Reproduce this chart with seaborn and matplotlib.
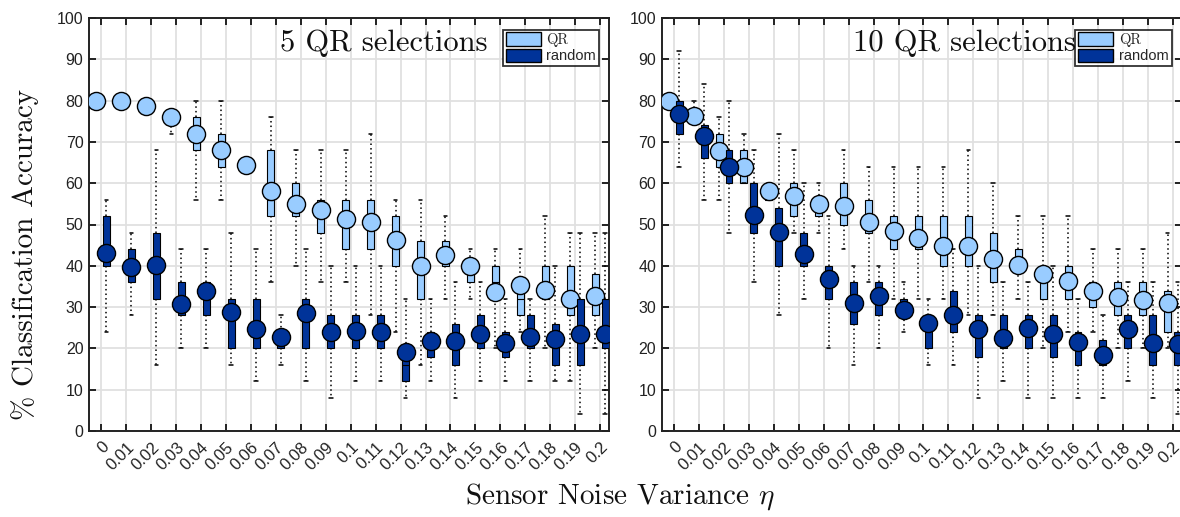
import numpy as np
import matplotlib
matplotlib.use("Agg")
import matplotlib.pyplot as plt
from matplotlib.patches import Patch
import seaborn as sns

# Sensor noise variance levels (x categories)
noise_levels = ["0", "0.01", "0.02", "0.03", "0.04", "0.05", "0.06", "0.07", "0.08", "0.09",
                "0.1", "0.11", "0.12", "0.13", "0.14", "0.15", "0.16", "0.17", "0.18", "0.19", "0.2"]
y_ticks = [0, 10, 20, 30, 40, 50, 60, 70, 80, 90, 100]

# ---- 5 QR selections ----
qr5_mean = [80, 80, 78.8, 76, 72, 68, 64.5, 58.1, 54.9, 53.5, 51.3, 50.5, 46.3, 40, 42.6, 40, 33.7, 35.4, 34.2, 31.9, 32.8]
qr5_q1 = [80, 80, 80, 76, 68, 64, 64, 52, 52, 48, 44, 44, 40, 32, 40, 36, 32, 28, 32, 28, 28]
qr5_q3 = [80, 80, 80, 76, 76, 72, 64, 68, 60, 56, 56, 56, 52, 46, 46, 40, 40, 36, 40, 40, 38]
qr5_med = [80, 80, 80, 76, 72, 68, 64, 56, 56, 52, 52, 52, 48, 40, 44, 40, 36, 32, 36, 32, 32]
qr5_lo = [80, 80, 80, 72, 56, 56, 64, 36, 40, 36, 36, 28, 24, 16, 32, 32, 20, 24, 20, 12, 20]
qr5_hi = [80, 80, 80, 76, 80, 80, 64, 76, 68, 68, 68, 72, 56, 56, 52, 44, 44, 44, 52, 48, 48]

rnd5_mean = [43.2, 39.7, 40.2, 30.7, 33.9, 28.9, 24.7, 22.7, 28.5, 23.9, 24.1, 23.9, 19.2, 21.9, 21.7, 23.5, 21.4, 22.8, 22.3, 23.5, 23.5]
rnd5_q1 = [40, 36, 32, 28, 28, 20, 20, 20, 20, 20, 20, 20, 12, 18, 16, 20, 18, 20, 16, 16, 20]
rnd5_q3 = [52, 44, 48, 36, 36, 32, 32, 24, 32, 28, 28, 28, 20, 24, 26, 28, 24, 28, 26, 32, 32]
rnd5_med = [44, 40, 40, 32, 32, 28, 24, 24, 28, 24, 24, 24, 16, 22, 20, 24, 20, 24, 22, 24, 24]
rnd5_lo = [24, 28, 16, 20, 20, 16, 12, 16, 12, 8, 12, 12, 8, 12, 8, 12, 12, 12, 12, 4, 4]
rnd5_hi = [56, 48, 68, 44, 44, 48, 44, 28, 44, 40, 40, 40, 32, 32, 36, 36, 32, 32, 40, 48, 48]

# ---- 10 QR selections ----
qr10_mean = [80, 76.2, 67.9, 64, 58.2, 56.8, 54.9, 54.4, 50.6, 48.5, 46.7, 44.8, 44.8, 41.6, 40.3, 38.1, 36.3, 34, 32.5, 31.7, 30.9]
qr10_q1 = [80, 76, 64, 60, 56, 52, 52, 50, 48, 44, 44, 40, 40, 36, 40, 32, 32, 30, 28, 28, 24]
qr10_q3 = [80, 76, 72, 68, 60, 60, 56, 60, 56, 52, 52, 52, 52, 48, 44, 40, 40, 36, 36, 36, 34]
qr10_med = [80, 76, 68, 64, 58, 56, 56, 56, 52, 48, 48, 44, 44, 40, 40, 38, 36, 32, 32, 32, 30]
qr10_lo = [80, 76, 56, 60, 56, 48, 48, 44, 36, 32, 32, 32, 28, 28, 32, 20, 24, 24, 20, 20, 20]
qr10_hi = [80, 80, 76, 72, 60, 68, 60, 68, 64, 64, 64, 64, 68, 60, 52, 52, 52, 44, 44, 44, 48]

rnd10_mean = [76.7, 71.5, 64, 52.2, 48.1, 42.9, 36.8, 31.1, 32.7, 29.3, 26.2, 28.1, 24.7, 22.6, 25, 23.4, 21.6, 18.5, 24.6, 21.4, 21]
rnd10_q1 = [72, 66, 60, 48, 40, 40, 32, 26, 28, 28, 20, 24, 18, 20, 20, 18, 16, 16, 20, 16, 16]
rnd10_q3 = [80, 74, 68, 60, 54, 48, 40, 36, 36, 32, 28, 34, 28, 28, 28, 28, 24, 22, 28, 28, 24]
rnd10_med = [76, 72, 64, 52, 48, 44, 36, 32, 32, 28, 28, 28, 24, 24, 24, 24, 20, 20, 24, 20, 20]
rnd10_lo = [64, 56, 48, 36, 28, 32, 20, 16, 20, 24, 16, 16, 8, 12, 8, 8, 8, 8, 12, 8, 4]
rnd10_hi = [92, 84, 80, 68, 72, 60, 52, 40, 40, 36, 32, 44, 40, 36, 36, 40, 32, 28, 36, 36, 36]

QR_COLOR = "#99ccff"
RND_COLOR = "#003399"

sns.set_theme(style="whitegrid")
plt.rcParams["font.family"] = ["Liberation Sans", "DejaVu Sans"]
plt.rcParams["mathtext.fontset"] = "cm"

W, H = 1180, 517
fig = plt.figure(figsize=(W / 100, H / 100), dpi=100)
fig.patch.set_facecolor("white")

ax_w = 520 / W
ax_h = 413 / H
ax_b = (H - 431) / H
axes = [fig.add_axes([89 / W, ax_b, ax_w, ax_h]),
        fig.add_axes([661.7 / W, ax_b, ax_w, ax_h])]


def make_stats(mean, q1, q3, med, lo, hi):
    return [dict(mean=m, q1=a, q3=b, med=c, whislo=d, whishi=e, fliers=[])
            for m, a, b, c, d, e in zip(mean, q1, q3, med, lo, hi)]


def draw_group(ax, stats, means, pos, color, z):
    ax.bxp(stats, positions=pos, widths=0.28, capwidths=0.14, patch_artist=True,
           showmeans=False, showfliers=False, manage_ticks=False, zorder=z,
           boxprops=dict(facecolor=color, edgecolor="black", linewidth=0.8),
           whiskerprops=dict(color="black", linewidth=1.1, linestyle=(0, (1, 2))),
           capprops=dict(color="black", linewidth=1.1),
           medianprops=dict(color="black", linewidth=0.8))
    sns.scatterplot(x=pos, y=means, ax=ax, s=170, color=color, edgecolor="black",
                    linewidth=1.0, zorder=z + 0.5, legend=False)


panels = [
    ("5 QR selections",
     make_stats(qr5_mean, qr5_q1, qr5_q3, qr5_med, qr5_lo, qr5_hi), qr5_mean,
     make_stats(rnd5_mean, rnd5_q1, rnd5_q3, rnd5_med, rnd5_lo, rnd5_hi), rnd5_mean),
    ("10 QR selections",
     make_stats(qr10_mean, qr10_q1, qr10_q3, qr10_med, qr10_lo, qr10_hi), qr10_mean,
     make_stats(rnd10_mean, rnd10_q1, rnd10_q3, rnd10_med, rnd10_lo, rnd10_hi), rnd10_mean),
]

idx = np.arange(len(noise_levels))
for ax, (title, qr_stats, qr_mean, rnd_stats, rnd_mean) in zip(axes, panels):
    ax.set_facecolor("white")
    draw_group(ax, qr_stats, qr_mean, idx - 0.2, QR_COLOR, 3)
    draw_group(ax, rnd_stats, rnd_mean, idx + 0.2, RND_COLOR, 5)

    ax.set_xlim(-0.5, 20.36)
    ax.set_ylim(0, 100)
    ax.set_xticks(idx)
    ax.set_xticklabels(noise_levels, rotation=45, ha="right", rotation_mode="anchor",
                       fontsize=12, color="#222222")
    ax.set_yticks(y_ticks)
    ax.set_yticklabels([str(v) for v in y_ticks], fontsize=11.5, color="#222222")
    ax.tick_params(axis="both", which="both", direction="in", length=5, width=1.2,
                   color="black", top=True, right=True, bottom=True, left=True, pad=4)
    ax.tick_params(axis="x", pad=6)
    ax.grid(True, color="#e0e0e0", linewidth=1.3)
    ax.set_axisbelow(True)
    for sp in ax.spines.values():
        sp.set_color("#222222")
        sp.set_linewidth(1.4)
        sp.set_visible(True)

    ax.text(0.367, 0.94, title, transform=ax.transAxes, ha="left", va="center",
            fontsize=22, family="cmr10", color="#111111", zorder=1)

    handles = [Patch(facecolor=QR_COLOR, edgecolor="black", linewidth=1.0),
               Patch(facecolor=RND_COLOR, edgecolor="black", linewidth=1.0)]
    leg = ax.legend(handles, ["QR", "random"], loc="upper right",
                    bbox_to_anchor=(0.981, 0.972), fontsize=10.5, frameon=True,
                    fancybox=False, handlelength=2.4, handleheight=1.05,
                    labelspacing=0.1, borderpad=0.2, handletextpad=0.4,
                    borderaxespad=0.0)
    leg.get_frame().set_edgecolor("black")
    leg.get_frame().set_linewidth(1.3)
    leg.set_zorder(10)
    leg.get_texts()[0].set_family("cmr10")

fig.text(25 / W, 1 - 255 / H, "% Classification Accuracy", rotation=90,
         ha="center", va="center", fontsize=21, family="cmr10", color="#111111")
fig.text(620 / W, 1 - 497 / H, r"Sensor Noise Variance $\eta$",
         ha="center", va="center", fontsize=21, family="cmr10", color="#111111")

fig.savefig("out.png", dpi=100, facecolor="white")
